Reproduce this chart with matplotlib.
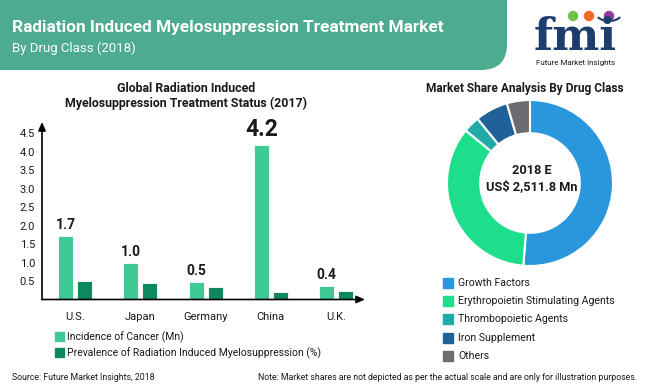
import numpy as np
import matplotlib.pyplot as plt
from matplotlib.patches import FancyBboxPatch, Rectangle, Circle, Arc

plt.rcParams['font.family'] = ['Roboto', 'DejaVu Sans']

# bar chart data
countries = ["U.S.", "Japan", "Germany", "China", "U.K."]
incidence = [1.72, 0.99, 0.48, 4.17, 0.36]
prevalence = [0.50, 0.45, 0.35, 0.20, 0.24]
value_labels = ["1.7", "1.0", "0.5", "4.2", "0.4"]
yticks = [0.5, 1.0, 1.5, 2.0, 2.5, 3.0, 3.5, 4.0, 4.5]
bar_legend = ["Incidence of Cancer (Mn)",
              "Prevalence of Radiation Induced Myelosuppression (%)"]

# donut data
drug_classes = ["Growth Factors", "Erythropoietin Stimulating Agents",
                "Thrombopoietic Agents", "Iron Supplement", "Others"]
shares = [51.3, 34.6, 3.2, 6.4, 4.5]

HEADER = "#4dab8f"
LIGHT = "#3ec995"
DARK = "#0f8a5f"
donut_colors = ["#2a97dc", "#1ddf8b", "#20aba9", "#1f6199", "#6c6d70"]
NAVY = "#1c3d6e"
TXT = "#1a1a1a"

W, H = 650, 389
fig = plt.figure(figsize=(6.5, 3.89), dpi=100)


def box(x0, y0, x1, y1):
    # pixel box (top-left origin) -> figure fractions
    return [x0 / W, 1 - y1 / H, (x1 - x0) / W, (y1 - y0) / H]


# background layer in pixel coordinates
bg = fig.add_axes([0, 0, 1, 1])
bg.set_xlim(0, W)
bg.set_ylim(H, 0)
bg.axis("off")

# header band
bg.add_patch(FancyBboxPatch((-60, -60), 567, 130,
                            boxstyle="round,pad=0,rounding_size=26",
                            fc=HEADER, ec="none"))
bg.text(12, 27, "Radiation Induced Myelosuppression Treatment Market",
        color="white", fontsize=12.4, weight="bold", va="center")
bg.text(12, 48, "By Drug Class (2018)", color="white", fontsize=9.5, va="center")

# logo
bg.text(575, 37, "fmi", fontsize=32, weight="bold", family="DejaVu Serif",
        color=NAVY, ha="center", va="center")
for (cx, cy), c in zip([(573, 16), (589, 16), (609, 16)],
                       ["#6cc24a", "#f26b2b", "#8e3a96"]):
    bg.add_patch(Circle((cx, cy), 4.5, color=c))
bg.add_patch(Arc((609, 13), 26, 16, theta1=20, theta2=160, color=NAVY, lw=1.5))
bg.text(576, 63, "Future Market Insights", fontsize=5.8, color=TXT,
        ha="center", va="center")

# titles
bg.text(186, 88, "Global Radiation Induced", fontsize=8.9, weight="bold",
        color=TXT, ha="center", va="center")
bg.text(186, 103, "Myelosuppression Treatment Status (2017)", fontsize=8.9,
        weight="bold", color=TXT, ha="center", va="center")
bg.text(525, 88, "Market Share Analysis By Drug Class", fontsize=8.6,
        weight="bold", color=TXT, ha="center", va="center")

# ---- bar chart ----
ax = fig.add_axes(box(42, 122, 365, 299.5))
ax.patch.set_alpha(0)
x = np.arange(len(countries))
off, bw = 0.145, 0.23
ax.bar(x - off, incidence, bw, color=LIGHT, edgecolor="white", linewidth=0.6)
ax.bar(x + off, prevalence, bw, color=DARK, edgecolor="white", linewidth=0.6)
ax.set_xlim(-0.505, 4.44)
ax.set_ylim(0, 4.8)
for s in ax.spines.values():
    s.set_visible(False)
ax.annotate("", xy=(0, 1), xytext=(0, 0), xycoords="axes fraction",
            arrowprops=dict(arrowstyle="-|>,head_length=0.5,head_width=0.22",
                            color="black", lw=1.2, shrinkA=0, shrinkB=0))
ax.annotate("", xy=(1, 0), xytext=(0, 0), xycoords="axes fraction",
            arrowprops=dict(arrowstyle="-|>,head_length=0.5,head_width=0.22",
                            color="black", lw=1.2, shrinkA=0, shrinkB=0))
ax.set_yticks(yticks, [f"{v:.1f}" for v in yticks])
ax.set_xticks(x, countries)
ax.tick_params(axis="y", length=0, pad=5, labelsize=8, labelcolor=TXT)
ax.tick_params(axis="x", length=0, pad=9, labelsize=8, labelcolor=TXT)
for xi, v, lbl in zip(x, incidence, value_labels):
    big = lbl == "4.2"
    ax.annotate(lbl, (xi - off, v), xytext=(0, 3), textcoords="offset points",
                ha="center", va="bottom", weight="bold", color=TXT,
                fontsize=16.5 if big else 10)

# bar legend
for i, (lab, c) in enumerate(zip(bar_legend, [LIGHT, DARK])):
    y = 332 + i * 16
    bg.add_patch(Rectangle((55, y), 9, 9, color=c))
    bg.text(67, y + 4.8, lab, fontsize=7.5, color=TXT, va="center")

# ---- donut ----
r = 83
pax = fig.add_axes(box(530 - r, 183 - r, 530 + r, 183 + r))
pax.pie(shares, colors=donut_colors, startangle=90, counterclock=False,
        radius=1, wedgeprops=dict(width=0.4, edgecolor="white", linewidth=1.5))
pax.set_xlim(-1, 1)
pax.set_ylim(-1, 1)
pax.set_aspect("equal")
pax.axis("off")
bg.text(532, 170, "2018 E", fontsize=9.2, weight="bold", color=TXT,
        ha="center", va="center")
bg.text(532, 187, "US$ 2,511.8 Mn", fontsize=9.2, weight="bold", color=TXT,
        ha="center", va="center")

# donut legend
for i, (lab, c) in enumerate(zip(drug_classes, donut_colors)):
    y = 278 + i * 18.2
    bg.add_patch(Rectangle((443, y), 10, 10, color=c))
    bg.text(458, y + 5, lab, fontsize=7.6, color=TXT, va="center")

# footer
bg.text(12, 377, "Source: Future Market Insights, 2018", fontsize=6.3,
        color=TXT, va="center")
bg.text(637, 377, "Note: Market shares are not depicted as per the actual scale "
        "and are only for illustration purposes.", fontsize=6.35, color=TXT,
        va="center", ha="right")

fig.savefig("out.png", dpi=100)
